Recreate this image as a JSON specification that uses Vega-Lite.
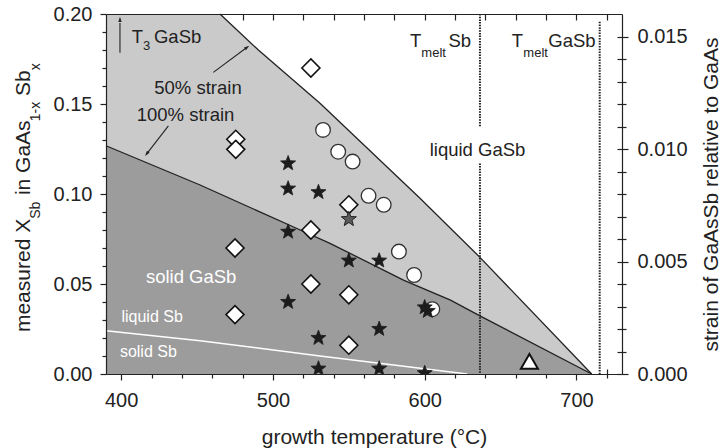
{
  "$schema": "https://vega.github.io/schema/vega-lite/v6.json",
  "width": 516,
  "height": 360,
  "autosize": {"type": "none"},
  "padding": {"left": 106, "top": 14, "right": 99, "bottom": 74},
  "background": "white",
  "config": {
    "font": "Liberation Sans",
    "view": {"stroke": null},
    "axis": {"grid": false, "domainColor": "#222", "tickColor": "#222", "labelColor": "#222", "titleColor": "#222", "domainWidth": 1.2, "tickWidth": 1.2, "labelFontSize": 20, "titleFontSize": 21, "titleFontWeight": "normal", "labelFont": "Liberation Sans", "titleFont": "Liberation Sans", "labelFlush": false}
  },
  "datasets": {
    "diamonds": [
      {"T": 525, "v": 0.170}, {"T": 475.5, "v": 0.1304}, {"T": 475.5, "v": 0.1248}, {"T": 550, "v": 0.094},
      {"T": 525, "v": 0.080}, {"T": 475, "v": 0.070}, {"T": 525, "v": 0.050}, {"T": 550, "v": 0.044},
      {"T": 475, "v": 0.033}, {"T": 550, "v": 0.016}
    ],
    "circles": [
      {"T": 533, "v": 0.1356}, {"T": 543, "v": 0.1235}, {"T": 552.5, "v": 0.118}, {"T": 563, "v": 0.099},
      {"T": 573, "v": 0.094}, {"T": 583, "v": 0.068}, {"T": 593, "v": 0.055}, {"T": 605, "v": 0.036}
    ],
    "stars": [
      {"T": 510, "v": 0.117}, {"T": 510, "v": 0.103}, {"T": 530, "v": 0.101}, {"T": 510, "v": 0.079},
      {"T": 550, "v": 0.063}, {"T": 570, "v": 0.063}, {"T": 510, "v": 0.040}, {"T": 600, "v": 0.037},
      {"T": 602, "v": 0.035}, {"T": 570, "v": 0.025}, {"T": 530, "v": 0.020}, {"T": 530, "v": 0.003},
      {"T": 570, "v": 0.003}, {"T": 600, "v": 0.0005}
    ],
    "graystar": [{"T": 550, "v": 0.086}],
    "triangle": [{"T": 669, "v": 0.007}],
    "region50": [
      {"T": 390, "v": 0.2}, {"T": 465.1, "v": 0.2}, {"T": 490.4, "v": 0.18}, {"T": 531, "v": 0.1504},
      {"T": 596.9, "v": 0.0976}, {"T": 636.4, "v": 0.0648}, {"T": 710, "v": 0}
    ],
    "region100": [
      {"T": 390, "v": 0.1268}, {"T": 452, "v": 0.105}, {"T": 518, "v": 0.080}, {"T": 537.6, "v": 0.0726},
      {"T": 586, "v": 0.0522}, {"T": 617, "v": 0.041}, {"T": 636.4, "v": 0.0323}, {"T": 710, "v": 0}
    ],
    "sbline": [{"T": 390, "v": 0.024}, {"T": 452, "v": 0.0185}, {"T": 531, "v": 0.010}, {"T": 628, "v": 0}],
    "melts": [
      {"T": 636.4, "v": 0.2, "v2": 0.1374}, {"T": 636.4, "v": 0.117, "v2": 0}, {"T": 715.3, "v": 0.1957, "v2": 0}
    ],
    "arrows": [
      {"id": "t3", "T": 399.2, "v": 0.1785, "T2": 399.2, "v2": 0.195},
      {"id": "s50", "T": 460.7, "v": 0.1676, "T2": 483, "v2": 0.1815},
      {"id": "s100", "T": 431.1, "v": 0.1378, "T2": 416.7, "v2": 0.1222}
    ],
    "heads": [
      {"id": "t3", "T": 399.2, "v": 0.1985},
      {"id": "s50", "T": 484.4, "v": 0.1824},
      {"id": "s100", "T": 415.7, "v": 0.1211}
    ],
    "labels_center": [
      {"label": "50% strain", "T": 450.6, "v": 0.1556},
      {"label": "100% strain", "T": 442.4, "v": 0.1407},
      {"label": "liquid GaSb", "T": 634.8, "v": 0.1211}
    ],
    "labels_white_big": [{"label": "solid GaSb", "T": 446.1, "v": 0.0504}],
    "labels_white_small": [
      {"label": "liquid Sb", "T": 420.4, "v": 0.029},
      {"label": "solid Sb", "T": 417.9, "v": 0.0093}
    ],
    "labels_left": [
      {"label": "T", "T": 406.9, "v": 0.1837}, {"label": "GaSb", "T": 421.6, "v": 0.1837},
      {"label": "T", "T": 590.3, "v": 0.1818}, {"label": "Sb", "T": 615.6, "v": 0.1818},
      {"label": "T", "T": 657.3, "v": 0.1818}, {"label": "GaSb", "T": 681.4, "v": 0.1818}
    ],
    "labels_sub": [
      {"label": "3", "T": 414.4, "v": 0.180},
      {"label": "melt", "T": 597.8, "v": 0.1763},
      {"label": "melt", "T": 665.0, "v": 0.1763}
    ],
    "ytitle_main": [
      {"label": "measured X", "T": 339.9, "v": 0.0233},
      {"label": "in GaAs", "T": 339.9, "v": 0.0994},
      {"label": "Sb", "T": 339.9, "v": 0.1544}
    ],
    "ytitle_sub": [
      {"label": "Sb", "T": 346.5, "v": 0.0862},
      {"label": "1-x", "T": 346.5, "v": 0.1404},
      {"label": "x", "T": 346.5, "v": 0.1687}
    ],
    "strain": [{"s": 0}, {"s": 0.016}]
  },
  "layer": [
    {
      "layer": [
        {"data": {"name": "region50"}, "mark": {"type": "area", "color": "#cacaca"},
         "encoding": {"x": {"field": "T", "type": "quantitative", "scale": {"domain": [390, 730], "nice": false, "zero": false}, "axis": null},
                      "y": {"field": "v", "type": "quantitative", "scale": {"domain": [0, 0.2], "nice": false, "zero": false}, "axis": null}}},
        {"data": {"name": "region100"}, "mark": {"type": "area", "color": "#9c9c9c"},
         "encoding": {"x": {"field": "T", "type": "quantitative", "axis": null}, "y": {"field": "v", "type": "quantitative", "axis": null}}},
        {"data": {"name": "sbline"}, "mark": {"type": "line", "color": "white", "strokeWidth": 1.5},
         "encoding": {"x": {"field": "T", "type": "quantitative", "axis": null}, "y": {"field": "v", "type": "quantitative", "axis": null}}},
        {"data": {"name": "region50"}, "transform": [{"filter": "datum.T > 400"}], "mark": {"type": "line", "color": "#222", "strokeWidth": 1.3},
         "encoding": {"x": {"field": "T", "type": "quantitative", "axis": null}, "y": {"field": "v", "type": "quantitative", "axis": null}}},
        {"data": {"name": "region100"}, "mark": {"type": "line", "color": "#222", "strokeWidth": 1.3},
         "encoding": {"x": {"field": "T", "type": "quantitative", "axis": null}, "y": {"field": "v", "type": "quantitative", "axis": null}}},
        {"data": {"name": "melts"}, "mark": {"type": "rule", "color": "#222", "strokeWidth": 2, "strokeDash": [1.5, 1.2]},
         "encoding": {"x": {"field": "T", "type": "quantitative", "axis": null}, "y": {"field": "v", "type": "quantitative", "axis": null}, "y2": {"field": "v2"}}},
        {"data": {"name": "arrows"}, "mark": {"type": "rule", "color": "#222", "strokeWidth": 1.1},
         "encoding": {"x": {"field": "T", "type": "quantitative", "axis": null}, "y": {"field": "v", "type": "quantitative", "axis": null}, "x2": {"field": "T2"}, "y2": {"field": "v2"}}},
        {"data": {"name": "heads"}, "transform": [{"filter": "datum.id == 't3'"}],
         "mark": {"type": "point", "shape": "M0,0L0.75,2.4L-0.75,2.4Z", "size": 20, "filled": true, "color": "#222", "opacity": 1, "angle": 0},
         "encoding": {"x": {"field": "T", "type": "quantitative", "axis": null}, "y": {"field": "v", "type": "quantitative", "axis": null}}},
        {"data": {"name": "heads"}, "transform": [{"filter": "datum.id == 's50'"}],
         "mark": {"type": "point", "shape": "M0,0L0.75,2.4L-0.75,2.4Z", "size": 20, "filled": true, "color": "#222", "opacity": 1, "angle": 53.5},
         "encoding": {"x": {"field": "T", "type": "quantitative", "axis": null}, "y": {"field": "v", "type": "quantitative", "axis": null}}},
        {"data": {"name": "heads"}, "transform": [{"filter": "datum.id == 's100'"}],
         "mark": {"type": "point", "shape": "M0,0L0.75,2.4L-0.75,2.4Z", "size": 20, "filled": true, "color": "#222", "opacity": 1, "angle": 217.8},
         "encoding": {"x": {"field": "T", "type": "quantitative", "axis": null}, "y": {"field": "v", "type": "quantitative", "axis": null}}},
        {"data": {"name": "diamonds"}, "mark": {"type": "point", "shape": "diamond", "size": 324, "filled": true, "fill": "white", "stroke": "#111", "strokeWidth": 1.6, "opacity": 1},
         "encoding": {"x": {"field": "T", "type": "quantitative", "axis": null}, "y": {"field": "v", "type": "quantitative", "axis": null}}},
        {"data": {"name": "circles"}, "mark": {"type": "point", "shape": "circle", "size": 215, "filled": true, "fill": "white", "stroke": "#333", "strokeWidth": 1.3, "opacity": 1},
         "encoding": {"x": {"field": "T", "type": "quantitative", "axis": null}, "y": {"field": "v", "type": "quantitative", "axis": null}}},
        {"data": {"name": "stars"}, "mark": {"type": "point", "clip": true, "shape": "M0,-1L0.247,-0.34L0.951,-0.309L0.4,0.13L0.588,0.809L0,0.42L-0.588,0.809L-0.4,0.13L-0.951,-0.309L-0.247,-0.34Z", "size": 250, "filled": true, "fill": "#1c1c1c", "stroke": "#1c1c1c", "strokeWidth": 0.8, "opacity": 1},
         "encoding": {"x": {"field": "T", "type": "quantitative", "axis": null}, "y": {"field": "v", "type": "quantitative", "axis": null}}},
        {"data": {"name": "graystar"}, "mark": {"type": "point", "shape": "M0,-1L0.247,-0.34L0.951,-0.309L0.4,0.13L0.588,0.809L0,0.42L-0.588,0.809L-0.4,0.13L-0.951,-0.309L-0.247,-0.34Z", "size": 250, "filled": true, "fill": "#5a5a5a", "stroke": "#222", "strokeWidth": 1, "opacity": 1},
         "encoding": {"x": {"field": "T", "type": "quantitative", "axis": null}, "y": {"field": "v", "type": "quantitative", "axis": null}}},
        {"data": {"name": "triangle"}, "mark": {"type": "point", "shape": "triangle-up", "size": 290, "filled": true, "fill": "white", "stroke": "#111", "strokeWidth": 2, "opacity": 1},
         "encoding": {"x": {"field": "T", "type": "quantitative", "axis": null}, "y": {"field": "v", "type": "quantitative", "axis": null}}},
        {"data": {"name": "labels_center"}, "mark": {"type": "text", "align": "center", "baseline": "alphabetic", "fontSize": 18.5, "color": "#222"},
         "encoding": {"x": {"field": "T", "type": "quantitative", "axis": null}, "y": {"field": "v", "type": "quantitative", "axis": null}, "text": {"field": "label"}}},
        {"data": {"name": "labels_white_big"}, "mark": {"type": "text", "align": "center", "baseline": "alphabetic", "fontSize": 18.5, "color": "white"},
         "encoding": {"x": {"field": "T", "type": "quantitative", "axis": null}, "y": {"field": "v", "type": "quantitative", "axis": null}, "text": {"field": "label"}}},
        {"data": {"name": "labels_white_small"}, "mark": {"type": "text", "align": "center", "baseline": "alphabetic", "fontSize": 16, "color": "white"},
         "encoding": {"x": {"field": "T", "type": "quantitative", "axis": null}, "y": {"field": "v", "type": "quantitative", "axis": null}, "text": {"field": "label"}}},
        {"data": {"name": "labels_left"}, "mark": {"type": "text", "align": "left", "baseline": "alphabetic", "fontSize": 18.5, "color": "#222"},
         "encoding": {"x": {"field": "T", "type": "quantitative", "axis": null}, "y": {"field": "v", "type": "quantitative", "axis": null}, "text": {"field": "label"}}},
        {"data": {"name": "labels_sub"}, "mark": {"type": "text", "align": "left", "baseline": "alphabetic", "fontSize": 13, "color": "#222"},
         "encoding": {"x": {"field": "T", "type": "quantitative", "axis": null}, "y": {"field": "v", "type": "quantitative", "axis": null}, "text": {"field": "label"}}},
        {"data": {"name": "ytitle_main"}, "mark": {"type": "text", "align": "left", "baseline": "alphabetic", "fontSize": 21, "angle": 270, "color": "#222"},
         "encoding": {"x": {"field": "T", "type": "quantitative", "axis": null}, "y": {"field": "v", "type": "quantitative", "axis": null}, "text": {"field": "label"}}},
        {"data": {"name": "ytitle_sub"}, "mark": {"type": "text", "align": "left", "baseline": "alphabetic", "fontSize": 14, "angle": 270, "color": "#222"},
         "encoding": {"x": {"field": "T", "type": "quantitative", "axis": null}, "y": {"field": "v", "type": "quantitative", "axis": null}, "text": {"field": "label"}}}
      ]
    },
    {"data": {"name": "diamonds"}, "mark": {"type": "point", "opacity": 0},
     "encoding": {"x": {"field": "T", "type": "quantitative", "scale": {"domain": [390, 730], "nice": false, "zero": false},
                        "axis": {"orient": "bottom", "values": [400, 500, 600, 700], "tickSize": 6, "labelPadding": 10, "title": "growth temperature (°C)", "titlePadding": 16, "titleX": 268, "domain": true, "zindex": 1}},
                  "y": {"field": "v", "type": "quantitative", "scale": {"domain": [0, 0.2], "nice": false, "zero": false}, "axis": null}}},
    {"data": {"name": "diamonds"}, "mark": {"type": "point", "opacity": 0},
     "encoding": {"x": {"field": "T", "type": "quantitative", "scale": {"domain": [390, 730], "nice": false, "zero": false},
                        "axis": {"orient": "bottom", "values": [420, 440, 460, 480, 520, 540, 560, 580, 620, 640, 660, 680, 720], "tickSize": 4, "labels": false, "domain": false, "title": null, "zindex": 1}},
                  "y": {"field": "v", "type": "quantitative", "scale": {"domain": [0, 0.2], "nice": false, "zero": false}, "axis": null}}},
    {"data": {"name": "diamonds"}, "mark": {"type": "point", "opacity": 0},
     "encoding": {"x": {"field": "T", "type": "quantitative", "scale": {"domain": [390, 730], "nice": false, "zero": false},
                        "axis": {"orient": "bottom", "values": [400, 420, 440, 460, 480, 500, 520, 540, 560, 580, 600, 620, 640, 660, 680, 700, 720], "tickSize": -5, "labels": false, "domain": false, "title": null, "zindex": 0}},
                  "y": {"field": "v", "type": "quantitative", "scale": {"domain": [0, 0.2], "nice": false, "zero": false}, "axis": null}}},
    {"data": {"name": "diamonds"}, "mark": {"type": "point", "opacity": 0},
     "encoding": {"x": {"field": "T", "type": "quantitative", "scale": {"domain": [390, 730], "nice": false, "zero": false},
                        "axis": {"orient": "top", "ticks": false, "labels": false, "domain": true, "title": null, "zindex": 1}},
                  "y": {"field": "v", "type": "quantitative", "scale": {"domain": [0, 0.2], "nice": false, "zero": false}, "axis": null}}},
    {"data": {"name": "diamonds"}, "mark": {"type": "point", "opacity": 0},
     "encoding": {"x": {"field": "T", "type": "quantitative", "scale": {"domain": [390, 730], "nice": false, "zero": false},
                        "axis": {"orient": "top", "values": [400, 420, 440, 460, 480, 500, 520, 540, 560, 580, 600, 620, 640, 660, 680, 700, 720], "tickSize": -6, "labels": false, "domain": false, "title": null, "zindex": 0}},
                  "y": {"field": "v", "type": "quantitative", "scale": {"domain": [0, 0.2], "nice": false, "zero": false}, "axis": null}}},
    {"data": {"name": "diamonds"}, "mark": {"type": "point", "opacity": 0},
     "encoding": {"x": {"field": "T", "type": "quantitative", "scale": {"domain": [390, 730], "nice": false, "zero": false}, "axis": null},
                  "y": {"field": "v", "type": "quantitative", "scale": {"domain": [0, 0.2], "nice": false, "zero": false},
                        "axis": {"orient": "left", "values": [0, 0.05, 0.1, 0.15, 0.2], "format": ".2f", "tickSize": 6, "labelPadding": 8, "title": null, "domain": true, "zindex": 1}}}},
    {"data": {"name": "diamonds"}, "mark": {"type": "point", "opacity": 0},
     "encoding": {"x": {"field": "T", "type": "quantitative", "scale": {"domain": [390, 730], "nice": false, "zero": false}, "axis": null},
                  "y": {"field": "v", "type": "quantitative", "scale": {"domain": [0, 0.2], "nice": false, "zero": false},
                        "axis": {"orient": "left", "values": [0.01, 0.02, 0.03, 0.04, 0.06, 0.07, 0.08, 0.09, 0.11, 0.12, 0.13, 0.14, 0.16, 0.17, 0.18, 0.19], "tickSize": 4, "labels": false, "domain": false, "title": null, "zindex": 1}}}},
    {"data": {"name": "strain"}, "mark": {"type": "point", "opacity": 0},
     "encoding": {"y": {"field": "s", "type": "quantitative", "scale": {"domain": [0, 0.016], "nice": false, "zero": false},
                        "axis": {"orient": "right", "values": [0, 0.005, 0.01, 0.015], "format": ".3f", "tickSize": 6, "labelPadding": 9, "title": "strain of GaAsSb relative to GaAs", "titleAngle": 270, "titleBaseline": "top", "titlePadding": 13, "domain": true, "zindex": 1}}}},
    {"data": {"name": "strain"}, "mark": {"type": "point", "opacity": 0},
     "encoding": {"y": {"field": "s", "type": "quantitative", "scale": {"domain": [0, 0.016], "nice": false, "zero": false},
                        "axis": {"orient": "right", "values": [0.001, 0.002, 0.003, 0.004, 0.006, 0.007, 0.008, 0.009, 0.011, 0.012, 0.013, 0.014], "tickSize": 4, "labels": false, "domain": false, "title": null, "zindex": 1}}}},
    {"data": {"name": "strain"}, "mark": {"type": "point", "opacity": 0},
     "encoding": {"y": {"field": "s", "type": "quantitative", "scale": {"domain": [0, 0.016], "nice": false, "zero": false},
                        "axis": {"orient": "right", "values": [0, 0.001, 0.002, 0.003, 0.004, 0.005, 0.006, 0.007, 0.008, 0.009, 0.01, 0.011, 0.012, 0.013, 0.014, 0.015], "tickSize": -5, "labels": false, "domain": false, "title": null, "zindex": 0}}}}
  ],
  "resolve": {"scale": {"y": "independent"}, "axis": {"x": "independent", "y": "independent"}}
}
